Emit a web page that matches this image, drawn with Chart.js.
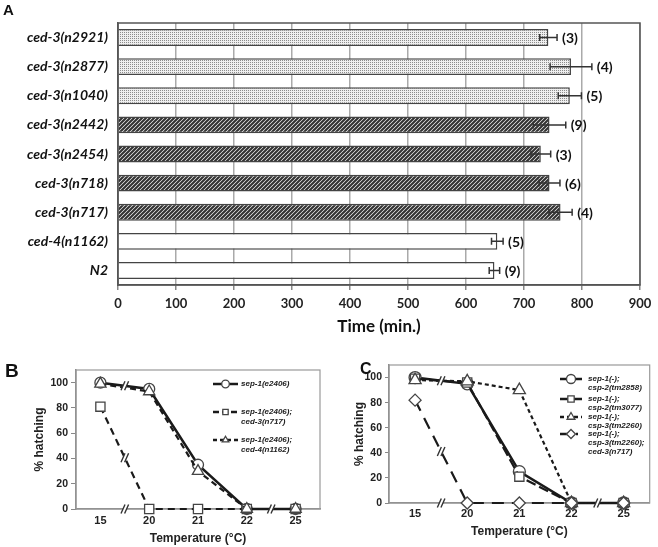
<!DOCTYPE html>
<html>
<head>
<meta charset="utf-8">
<title>Hatching time and temperature sensitivity</title>
<script src="https://cdn.jsdelivr.net/npm/chart.js@4"></script>
<style>
  body { margin: 0; background: #fff; }
  #wrap { position: relative; width: 658px; height: 547px; overflow: hidden; }
  canvas { position: absolute; }
  .panel { position: absolute; line-height: 1; font-family: "Liberation Sans", Arial, sans-serif; font-weight: bold; color: #111; }
</style>
<script type="text/javascript">

    // panel A: hatching time of each strain
    var strains = ['ced-3(n2921)', 'ced-3(n2877)', 'ced-3(n1040)', 'ced-3(n2442)', 'ced-3(n2454)',
                   'ced-3(n718)', 'ced-3(n717)', 'ced-4(n1162)', 'N2'];
    var hatchMinutes = [742, 781, 779, 744, 729, 744, 763, 654, 649];
    var hatchSem = [15, 36, 20, 28, 17, 18, 20, 10, 9];
    var embryoCounts = [3, 4, 5, 9, 3, 6, 4, 5, 9];

    // panels B and C: % hatching against temperature
    var temps = ['15', '20', '21', '22', '25'];
    var hatchTicks = [0, 20, 40, 60, 80, 100];
    var sepB = [100, 95, 35, 0, 0];
    var sepCed3B = [81, 0, 0, 0, 0];
    var sepCed4B = [99, 93, 30, 0, 0];
    var csp2tm2858 = [100, 95, 25, 0, 0];
    var csp2tm3077 = [99, 96, 21, 0, 0];
    var csp3tm2260 = [98, 97, 90, 0, 0];
    var csp3ced3 = [82, 0, 0, 0, 0];

    function dotPattern() {
        var c = document.createElement('canvas');
        c.width = 2; c.height = 2;
        var g = c.getContext('2d');
        g.fillStyle = '#efefef'; g.fillRect(0, 0, 2, 2);
        g.fillStyle = '#8c8c8c'; g.fillRect(0, 0, 1, 1);
        return g.createPattern(c, 'repeat');
    }

    function hatchPattern() {
        var c = document.createElement('canvas');
        c.width = 4; c.height = 4;
        var g = c.getContext('2d');
        g.fillStyle = '#fff'; g.fillRect(0, 0, 4, 4);
        g.strokeStyle = '#333'; g.lineWidth = 2.2;
        g.beginPath();
        g.moveTo(-1, 5); g.lineTo(5, -1);
        g.moveTo(-1, 1); g.lineTo(1, -1);
        g.moveTo(3, 5); g.lineTo(5, 3);
        g.stroke();
        return g.createPattern(c, 'repeat');
    }

    function drawMarker(ctx, style, x, y, r, lw) {
        ctx.beginPath();
        if (style === 'circle') {
            ctx.arc(x, y, r, 0, Math.PI * 2);
        } else if (style === 'rect') {
            var s = r * Math.SQRT1_2;
            ctx.rect(x - s, y - s, 2 * s, 2 * s);
        } else if (style === 'triangle') {
            ctx.moveTo(x, y - r); ctx.lineTo(x + r * 0.866, y + r * 0.5); ctx.lineTo(x - r * 0.866, y + r * 0.5); ctx.closePath();
        } else {
            ctx.moveTo(x, y - r); ctx.lineTo(x + r, y); ctx.lineTo(x, y + r); ctx.lineTo(x - r, y); ctx.closePath();
        }
        ctx.fillStyle = '#fff'; ctx.fill();
        ctx.lineWidth = lw; ctx.strokeStyle = '#444'; ctx.stroke();
    }

    // box around the plot area
    var framePlugin = {
        id: 'frame',
        beforeDatasetsDraw: function (chart, args, o) {
            var a = chart.chartArea, ctx = chart.ctx;
            ctx.save();
            ctx.strokeStyle = o.color; ctx.lineWidth = o.width;
            ctx.strokeRect(a.left, a.top, a.right - a.left, a.bottom - a.top);
            ctx.restore();
        }
    };

    // error bars and (n) labels for panel A
    var errorBarPlugin = {
        id: 'errorBars',
        afterDatasetsDraw: function (chart) {
            var meta = chart.getDatasetMeta(0), x = chart.scales.x, ctx = chart.ctx;
            ctx.save();
            ctx.strokeStyle = '#333'; ctx.lineWidth = 1.5;
            ctx.font = 'bold 14px Lato, "Liberation Sans", sans-serif';
            ctx.fillStyle = '#111'; ctx.textBaseline = 'middle';
            meta.data.forEach(function (bar, i) {
                var lo = x.getPixelForValue(hatchMinutes[i] - hatchSem[i]);
                var hi = x.getPixelForValue(hatchMinutes[i] + hatchSem[i]);
                ctx.beginPath();
                ctx.moveTo(lo, bar.y); ctx.lineTo(hi, bar.y);
                ctx.moveTo(lo, bar.y - 3.5); ctx.lineTo(lo, bar.y + 3.5);
                ctx.moveTo(hi, bar.y - 3.5); ctx.lineTo(hi, bar.y + 3.5);
                ctx.stroke();
                ctx.fillText('(' + embryoCounts[i] + ')', hi + 5, bar.y + 1);
            });
            ctx.restore();
        }
    };

    // legend drawn inside the plot area
    var insideLegend = {
        id: 'insideLegend',
        afterDraw: function (chart, args, o) {
            var ctx = chart.ctx;
            ctx.save();
            chart.data.datasets.forEach(function (ds, i) {
                var y = o.rows[i];
                ctx.strokeStyle = ds.borderColor; ctx.lineWidth = 2.5;
                ctx.setLineDash(o.dash[i]);
                ctx.beginPath(); ctx.moveTo(o.x0, y); ctx.lineTo(o.x1, y); ctx.stroke();
                ctx.setLineDash([]);
                drawMarker(ctx, ds.pointStyle, (o.x0 + o.x1) / 2, y, o.r, 1.3);
                ctx.font = 'italic bold 8px "Liberation Sans", Arial, sans-serif';
                ctx.fillStyle = '#222'; ctx.textBaseline = 'middle';
                ds.label.split('; ').forEach(function (t, k, all) {
                    ctx.fillText(t + (k < all.length - 1 ? ';' : ''), o.textX, y + k * o.gap);
                });
            });
            ctx.restore();
        }
    };

    // "//" axis and line breaks
    var breakMarks = {
        id: 'breakMarks',
        afterDatasetsDraw: function (chart, args, o) {
            var x = chart.scales.x, y = chart.scales.y, ctx = chart.ctx, marks = [];
            o.axis.forEach(function (p) {
                marks.push([(x.getPixelForValue(p[0]) + x.getPixelForValue(p[1])) / 2, y.bottom]);
            });
            o.lines.forEach(function (p) {
                var pts = chart.getDatasetMeta(p[0]).data;
                marks.push([(pts[p[1]].x + pts[p[2]].x) / 2, (pts[p[1]].y + pts[p[2]].y) / 2]);
            });
            marks.forEach(function (m) {
                ctx.save();
                ctx.translate(m[0], m[1]);
                ctx.fillStyle = '#fff';
                ctx.beginPath();
                ctx.moveTo(-3.8, 4.5); ctx.lineTo(0.2, -4.5); ctx.lineTo(3.8, -4.5); ctx.lineTo(-0.2, 4.5); ctx.closePath();
                ctx.fill();
                ctx.strokeStyle = '#333'; ctx.lineWidth = 1.4;
                ctx.beginPath();
                ctx.moveTo(-3.8, 4.5); ctx.lineTo(0.2, -4.5);
                ctx.moveTo(-0.2, 4.5); ctx.lineTo(3.8, -4.5);
                ctx.stroke();
                ctx.restore();
            });
        }
    };

    function series(label, data, dash, style, radius, order) {
        return {
            label: label, data: data, order: order, clip: false,
            borderColor: '#1a1a1a', borderWidth: dash.length ? 2.2 : 2.5, borderDash: dash,
            pointStyle: style, pointRadius: radius, pointBackgroundColor: '#fff',
            pointBorderColor: '#444', pointBorderWidth: 1.3, tension: 0
        };
    }

    function lineOptions(cfg) {
        return {
            responsive: false,
            animation: false,
            layout: { padding: { top: cfg.top, right: cfg.right, left: 0, bottom: 0 } },
            plugins: {
                legend: { display: false },
                tooltip: { enabled: false },
                frame: { color: '#999', width: 1.2 },
                insideLegend: cfg.legend,
                breakMarks: cfg.breaks
            },
            scales: {
                x: {
                    offset: true,
                    grid: { display: false, drawTicks: false },
                    border: { color: '#888', width: 1.5 },
                    ticks: { padding: cfg.xPad, color: '#222', font: { size: 11, weight: 'bold' } },
                    title: { display: true, text: 'Temperature (°C)', color: '#222',
                             font: { size: 12, weight: 'bold' }, padding: { top: 0, bottom: cfg.xTitlePad } },
                    afterFit: function (s) { s.height = cfg.xHeight; }
                },
                y: {
                    min: 0, max: 110,
                    afterBuildTicks: function (s) { s.ticks = hatchTicks.map(function (v) { return { value: v }; }); },
                    grid: { drawOnChartArea: false, tickLength: cfg.tickLen, color: '#888' },
                    border: { color: '#888', width: 1.5 },
                    ticks: { padding: 3, color: '#222', font: { size: 10.5, weight: 'bold' } },
                    title: { display: true, text: '% hatching', color: '#222',
                             font: { size: 12, weight: 'bold' }, padding: { top: cfg.yTitlePad, bottom: 0 } },
                    afterFit: function (s) { s.width = cfg.yWidth; }
                }
            }
        };
    }

    window.onload = function () {
        Chart.defaults.font.family = '"Liberation Sans", Arial, sans-serif';

        var dots = dotPattern(), hatch = hatchPattern();
        var fills = [dots, dots, dots, hatch, hatch, hatch, hatch, '#fff', '#fff'];

        new Chart(document.getElementById('chartA'), {
            type: 'bar',
            data: {
                labels: strains,
                datasets: [{
                    data: hatchMinutes,
                    backgroundColor: fills,
                    borderColor: '#444',
                    borderWidth: 1.5,
                    barPercentage: 0.58,
                    categoryPercentage: 1
                }]
            },
            options: {
                indexAxis: 'y',
                responsive: false,
                animation: false,
                layout: { padding: { top: 23, right: 18, left: 0, bottom: 0 } },
                plugins: {
                    legend: { display: false },
                    tooltip: { enabled: false },
                    frame: { color: '#555', width: 1.5 }
                },
                scales: {
                    x: {
                        min: 0, max: 900,
                        ticks: { stepSize: 100, padding: 6, color: '#222',
                                 font: { family: 'Lato, "Liberation Sans", sans-serif', weight: 'bold', size: 13 } },
                        grid: { color: '#aaa', lineWidth: 1.5, tickLength: 5, tickColor: '#888' },
                        border: { color: '#555', width: 1.5 },
                        title: { display: true, text: 'Time (min.)', color: '#111',
                                 font: { family: 'Lato, "Liberation Sans", sans-serif', weight: 'bold', size: 17 },
                                 padding: { top: 0, bottom: 8 } },
                        afterFit: function (s) { s.height = 60; }
                    },
                    y: {
                        ticks: { padding: 10, color: '#111',
                                 font: { family: 'Lato, "Liberation Sans", sans-serif', style: 'italic', weight: 'bold', size: 14 } },
                        grid: { display: false, drawTicks: false },
                        border: { color: '#555', width: 1.5 },
                        afterFit: function (s) { s.width = 118; }
                    }
                }
            },
            plugins: [framePlugin, errorBarPlugin]
        });

        new Chart(document.getElementById('chartB'), {
            type: 'line',
            data: {
                labels: temps,
                datasets: [
                    series('sep-1(e2406)', sepB, [], 'circle', 5.5, 2),
                    series('sep-1(e2406); ced-3(n717)', sepCed3B, [7, 5], 'rect', 6.5, 1),
                    series('sep-1(e2406); ced-4(n1162)', sepCed4B, [6, 4], 'triangle', 6.5, 0)
                ]
            },
            options: lineOptions({
                top: 35, right: 10, yWidth: 76, xHeight: 38, xPad: 5, xTitlePad: 1, yTitlePad: 32, tickLen: 5,
                legend: { rows: [49, 77, 105], x0: 213, x1: 238, textX: 241, gap: 10, r: 3.8,
                          dash: [[], [6, 3], [4, 3]] },
                breaks: { axis: [[0, 1], [3, 4]], lines: [[0, 0, 1], [1, 0, 1]] }
            }),
            plugins: [framePlugin, breakMarks, insideLegend]
        });

        new Chart(document.getElementById('chartC'), {
            type: 'line',
            data: {
                labels: temps,
                datasets: [
                    series('sep-1(-); csp-2(tm2858)', csp2tm2858, [], 'circle', 6, 3),
                    series('sep-1(-); csp-2(tm3077)', csp2tm3077, [10, 4], 'rect', 6.5, 2),
                    series('sep-1(-); csp-3(tm2260)', csp3tm2260, [4, 3], 'triangle', 7, 1),
                    series('sep-1(-); csp-3(tm2260); ced-3(n717)', csp3ced3, [12, 8], 'rectRot', 6, 0)
                ]
            },
            options: lineOptions({
                top: 30, right: 3, yWidth: 59, xHeight: 44, xPad: 4, xTitlePad: 8, yTitlePad: 22, tickLen: 4,
                legend: { rows: [44, 64, 82, 99], x0: 230, x1: 252, textX: 258, gap: 9, r: 4.5,
                          dash: [[], [], [4, 3], [12, 4, 2, 4]] },
                breaks: { axis: [[0, 1], [3, 4]], lines: [[0, 0, 1], [3, 0, 1]] }
            }),
            plugins: [framePlugin, breakMarks, insideLegend]
        });
    };

</script>
</head>
<body>
<div id="wrap">
    <canvas id="chartA" width="658" height="345" style="left:0px;top:0px"></canvas>
    <canvas id="chartB" width="330" height="212" style="left:0px;top:335px"></canvas>
    <canvas id="chartC" width="328" height="212" style="left:330px;top:335px"></canvas>
    <div class="panel" style="left:3px;top:2px;font-size:15px">A</div>
    <div class="panel" style="left:5px;top:361px;font-size:19px">B</div>
    <div class="panel" style="left:360px;top:361px;font-size:16px">C</div>
</div>
</body>
</html>
